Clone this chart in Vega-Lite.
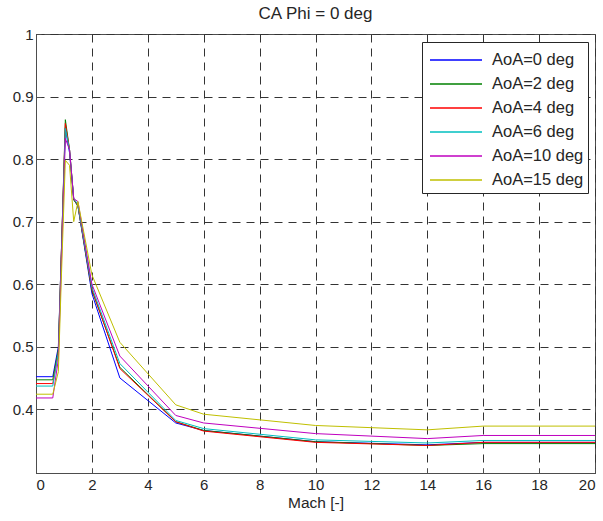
{
  "$schema": "https://vega.github.io/schema/vega-lite/v6.json",
  "width": 559,
  "height": 439,
  "autosize": {"type": "none"},
  "padding": {"left": 36, "top": 34, "right": 8, "bottom": 48},
  "background": "white",
  "title": {"text": "CA Phi = 0 deg", "font": "Liberation Sans", "fontSize": 17, "fontWeight": "normal", "color": "#262626", "offset": 4, "anchor": "middle"},
  "config": {
    "view": {"stroke": "#4d4d4d", "strokeWidth": 1},
    "axis": {
      "labelFont": "Liberation Sans", "labelFontSize": 15, "labelColor": "#262626",
      "titleFont": "Liberation Sans", "titleFontSize": 15.5, "titleFontWeight": "normal", "titleColor": "#262626",
      "domainColor": "#4d4d4d", "tickColor": "#4d4d4d",
      "gridColor": "#333333", "gridDash": [8, 6], "gridOpacity": 1, "gridWidth": 1
    }
  },
  "data": {"values": [
    {"M":0,"s":"AoA=0 deg","v":0.452},{"M":0.6,"s":"AoA=0 deg","v":0.452},{"M":0.8,"s":"AoA=0 deg","v":0.50},{"M":0.9,"s":"AoA=0 deg","v":0.64},{"M":1.05,"s":"AoA=0 deg","v":0.85},{"M":1.2,"s":"AoA=0 deg","v":0.81},{"M":1.35,"s":"AoA=0 deg","v":0.735},{"M":1.5,"s":"AoA=0 deg","v":0.725},{"M":2,"s":"AoA=0 deg","v":0.585},{"M":3,"s":"AoA=0 deg","v":0.45},{"M":5,"s":"AoA=0 deg","v":0.378},{"M":6,"s":"AoA=0 deg","v":0.366},{"M":10,"s":"AoA=0 deg","v":0.348},{"M":14,"s":"AoA=0 deg","v":0.343},{"M":16,"s":"AoA=0 deg","v":0.347},{"M":20,"s":"AoA=0 deg","v":0.347},
    {"M":0,"s":"AoA=2 deg","v":0.447},{"M":0.6,"s":"AoA=2 deg","v":0.447},{"M":0.8,"s":"AoA=2 deg","v":0.495},{"M":0.9,"s":"AoA=2 deg","v":0.64},{"M":1.05,"s":"AoA=2 deg","v":0.863},{"M":1.2,"s":"AoA=2 deg","v":0.815},{"M":1.35,"s":"AoA=2 deg","v":0.735},{"M":1.5,"s":"AoA=2 deg","v":0.725},{"M":2,"s":"AoA=2 deg","v":0.59},{"M":3,"s":"AoA=2 deg","v":0.467},{"M":5,"s":"AoA=2 deg","v":0.38},{"M":6,"s":"AoA=2 deg","v":0.366},{"M":10,"s":"AoA=2 deg","v":0.348},{"M":14,"s":"AoA=2 deg","v":0.342},{"M":16,"s":"AoA=2 deg","v":0.345},{"M":20,"s":"AoA=2 deg","v":0.345},
    {"M":0,"s":"AoA=4 deg","v":0.441},{"M":0.6,"s":"AoA=4 deg","v":0.441},{"M":0.8,"s":"AoA=4 deg","v":0.49},{"M":0.9,"s":"AoA=4 deg","v":0.64},{"M":1.05,"s":"AoA=4 deg","v":0.857},{"M":1.2,"s":"AoA=4 deg","v":0.815},{"M":1.35,"s":"AoA=4 deg","v":0.736},{"M":1.5,"s":"AoA=4 deg","v":0.726},{"M":2,"s":"AoA=4 deg","v":0.592},{"M":3,"s":"AoA=4 deg","v":0.465},{"M":5,"s":"AoA=4 deg","v":0.38},{"M":6,"s":"AoA=4 deg","v":0.365},{"M":10,"s":"AoA=4 deg","v":0.347},{"M":14,"s":"AoA=4 deg","v":0.342},{"M":16,"s":"AoA=4 deg","v":0.347},{"M":20,"s":"AoA=4 deg","v":0.347},
    {"M":0,"s":"AoA=6 deg","v":0.437},{"M":0.6,"s":"AoA=6 deg","v":0.437},{"M":0.8,"s":"AoA=6 deg","v":0.49},{"M":0.9,"s":"AoA=6 deg","v":0.63},{"M":1.05,"s":"AoA=6 deg","v":0.849},{"M":1.2,"s":"AoA=6 deg","v":0.815},{"M":1.35,"s":"AoA=6 deg","v":0.737},{"M":1.5,"s":"AoA=6 deg","v":0.727},{"M":2,"s":"AoA=6 deg","v":0.595},{"M":3,"s":"AoA=6 deg","v":0.473},{"M":5,"s":"AoA=6 deg","v":0.382},{"M":6,"s":"AoA=6 deg","v":0.369},{"M":10,"s":"AoA=6 deg","v":0.351},{"M":14,"s":"AoA=6 deg","v":0.346},{"M":16,"s":"AoA=6 deg","v":0.350},{"M":20,"s":"AoA=6 deg","v":0.350},
    {"M":0,"s":"AoA=10 deg","v":0.418},{"M":0.6,"s":"AoA=10 deg","v":0.418},{"M":0.8,"s":"AoA=10 deg","v":0.48},{"M":0.9,"s":"AoA=10 deg","v":0.62},{"M":1.05,"s":"AoA=10 deg","v":0.833},{"M":1.2,"s":"AoA=10 deg","v":0.815},{"M":1.35,"s":"AoA=10 deg","v":0.737},{"M":1.5,"s":"AoA=10 deg","v":0.732},{"M":2,"s":"AoA=10 deg","v":0.60},{"M":3,"s":"AoA=10 deg","v":0.485},{"M":5,"s":"AoA=10 deg","v":0.39},{"M":6,"s":"AoA=10 deg","v":0.378},{"M":10,"s":"AoA=10 deg","v":0.361},{"M":14,"s":"AoA=10 deg","v":0.353},{"M":16,"s":"AoA=10 deg","v":0.358},{"M":20,"s":"AoA=10 deg","v":0.358},
    {"M":0,"s":"AoA=15 deg","v":0.424},{"M":0.6,"s":"AoA=15 deg","v":0.424},{"M":0.8,"s":"AoA=15 deg","v":0.46},{"M":0.9,"s":"AoA=15 deg","v":0.60},{"M":1.05,"s":"AoA=15 deg","v":0.798},{"M":1.2,"s":"AoA=15 deg","v":0.79},{"M":1.35,"s":"AoA=15 deg","v":0.70},{"M":1.5,"s":"AoA=15 deg","v":0.732},{"M":2,"s":"AoA=15 deg","v":0.615},{"M":3,"s":"AoA=15 deg","v":0.507},{"M":5,"s":"AoA=15 deg","v":0.407},{"M":6,"s":"AoA=15 deg","v":0.392},{"M":10,"s":"AoA=15 deg","v":0.374},{"M":14,"s":"AoA=15 deg","v":0.367},{"M":16,"s":"AoA=15 deg","v":0.373},{"M":20,"s":"AoA=15 deg","v":0.373}
  ]},
  "layer": [
    {
      "mark": {"type": "line", "strokeWidth": 1, "clip": true},
      "encoding": {
        "x": {"field": "M", "type": "quantitative", "scale": {"domain": [0, 20], "nice": false, "zero": false},
              "axis": {"title": "Mach [-]", "values": [0,2,4,6,8,10,12,14,16,18,20], "tickSize": -5, "labelPadding": 9, "titlePadding": 3, "grid": true}},
        "y": {"field": "v", "type": "quantitative", "scale": {"domain": [0.298, 1], "nice": false, "zero": false},
              "axis": {"title": null, "values": [0.4,0.5,0.6,0.7,0.8,0.9,1], "tickSize": -5, "labelPadding": 8, "grid": true, "labelExpr": "datum.value == 1 ? '1' : format(datum.value, '.1f')"}},
        "color": {"field": "s", "type": "nominal",
                  "scale": {"domain": ["AoA=0 deg","AoA=2 deg","AoA=4 deg","AoA=6 deg","AoA=10 deg","AoA=15 deg"],
                            "range": ["#0000ff","#008000","#ff0000","#00bfbf","#bf00bf","#bfbf00"]},
                  "legend": {"title": null, "orient": "none", "legendX": 386, "legendY": 8,
                             "symbolType": "M-1,0H3", "symbolSize": 676, "symbolStrokeWidth": 1.5, "symbolOffset": 3,
                             "labelFont": "Liberation Sans", "labelFontSize": 16.5, "labelColor": "#262626",
                             "strokeColor": "#262626", "fillColor": "white", "padding": 4, "rowPadding": 1,
                             "labelOffset": 35}},
        "order": {"field": "s", "type": "nominal"}
      }
    }
  ]
}
